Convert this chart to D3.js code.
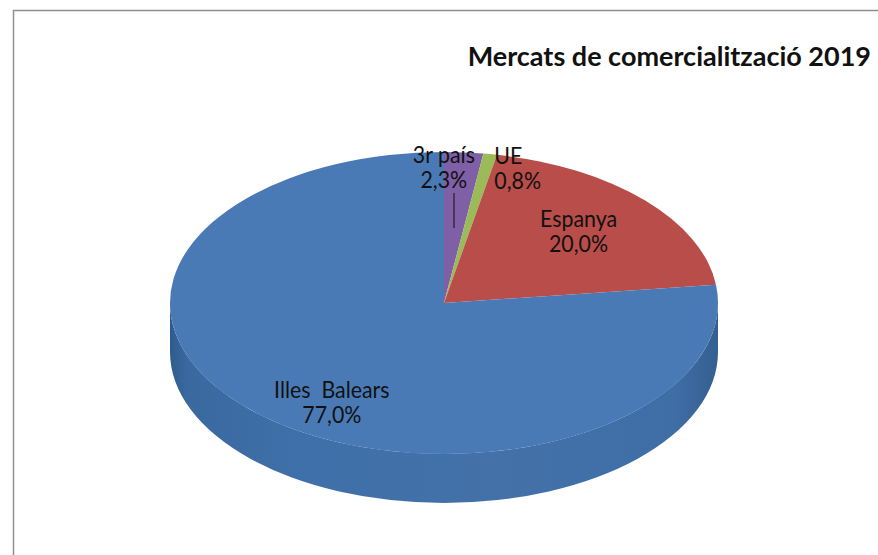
<!DOCTYPE html>
<html>
<head>
<meta charset="utf-8">
<script src="https://cdn.jsdelivr.net/npm/d3@7"></script>
<style>
    html, body { margin: 0; padding: 0; background: #fff; }
    svg { display: block; }
    text { font-family: Lato, "Open Sans", sans-serif; fill: #111; white-space: pre; }
</style>
</head>
<body>
<svg></svg>
<script>
const TITLE = 'Mercats de comercialització 2019';
const categories = ['3r país', 'UE', 'Espanya', 'Illes  Balears'];
const values = [2.3, 0.8, 20.0, 77.0];
const valueLabels = ['2,3%', '0,8%', '20,0%', '77,0%'];

const COLORS = ['#7f5fa5', '#9bbb59', '#b84d49', '#4a7ab5'];

// hand placed labels, offset from the slice centroid
const LABEL_OFFSETS = [
    { dx: -14, dy: -31, anchor: 'middle' },
    { dx: 18, dy: -31, anchor: 'start' },
    { dx: -6, dy: 0, anchor: 'middle' },
    { dx: 15, dy: 20, anchor: 'middle' }
];

const WIDTH = 878;
const HEIGHT = 555;
const CX = 444;
const CY = 303;
const RX = 274;
const RY = 151;
const DEPTH = 49;

const svg = d3.select('svg').attr('width', WIDTH).attr('height', HEIGHT);

const defs = svg.append('defs');
const sideGradient = defs.append('linearGradient')
    .attr('id', 'side')
    .attr('gradientUnits', 'userSpaceOnUse')
    .attr('x1', CX - RX).attr('x2', CX + RX).attr('y1', 0).attr('y2', 0);
[[0, '#2f5b8c'], [0.03, '#3a69a0'], [0.25, '#4070a9'], [0.6, '#4371a8'], [0.92, '#3f6da6'], [1, '#345f90']]
    .forEach(s => sideGradient.append('stop').attr('offset', s[0]).attr('stop-color', s[1]));

// chart frame, only top and left show
svg.append('path')
    .attr('d', `M13.5,${HEIGHT} V10.5 H${WIDTH}`)
    .attr('fill', 'none')
    .attr('stroke', '#8f8f8f')
    .attr('stroke-width', 1.5);

svg.append('text')
    .attr('x', 871)
    .attr('y', 66)
    .attr('text-anchor', 'end')
    .attr('font-size', 27)
    .attr('font-weight', 700)
    .text(TITLE);

const pie = d3.pie().sort(null)(values);
const arc = d3.arc().innerRadius(0).outerRadius(RX);
const centroidArc = d3.arc().innerRadius(RX * 0.7).outerRadius(RX * 0.7);

// side wall of the disc
svg.append('path')
    .attr('d', `M${CX - RX},${CY} A${RX},${RY} 0 0 0 ${CX + RX},${CY} V${CY + DEPTH} A${RX},${RY} 0 0 1 ${CX - RX},${CY + DEPTH} Z`)
    .attr('fill', 'url(#side)');

const flat = svg.append('g')
    .attr('transform', `translate(${CX},${CY}) scale(1,${RY / RX})`);

flat.selectAll('.slice')
    .data(pie)
    .enter()
    .append('path')
    .classed('slice', true)
    .attr('d', arc)
    .attr('fill', (d, i) => COLORS[i]);

// leader line for 3r país
svg.append('line')
    .attr('x1', 454).attr('x2', 454)
    .attr('y1', 193).attr('y2', 228)
    .attr('stroke', '#111')
    .attr('stroke-width', 1);

// labels are narrower and taller than Lato, hence the x scale
const labels = svg.selectAll('.label')
    .data(pie)
    .enter()
    .append('text')
    .classed('label', true)
    .attr('text-anchor', (d, i) => LABEL_OFFSETS[i].anchor)
    .attr('font-size', 24)
    .attr('transform', (d, i) => {
        const c = centroidArc.centroid(d);
        const x = CX + c[0] + LABEL_OFFSETS[i].dx;
        const y = CY + c[1] * RY / RX + LABEL_OFFSETS[i].dy;
        return `translate(${x},${y}) scale(0.89,1)`;
    });

labels.append('tspan')
    .attr('x', 0)
    .attr('y', -4)
    .text((d, i) => categories[i]);

labels.append('tspan')
    .attr('x', 0)
    .attr('y', 21)
    .text((d, i) => valueLabels[i]);
</script>
</body>
</html>
